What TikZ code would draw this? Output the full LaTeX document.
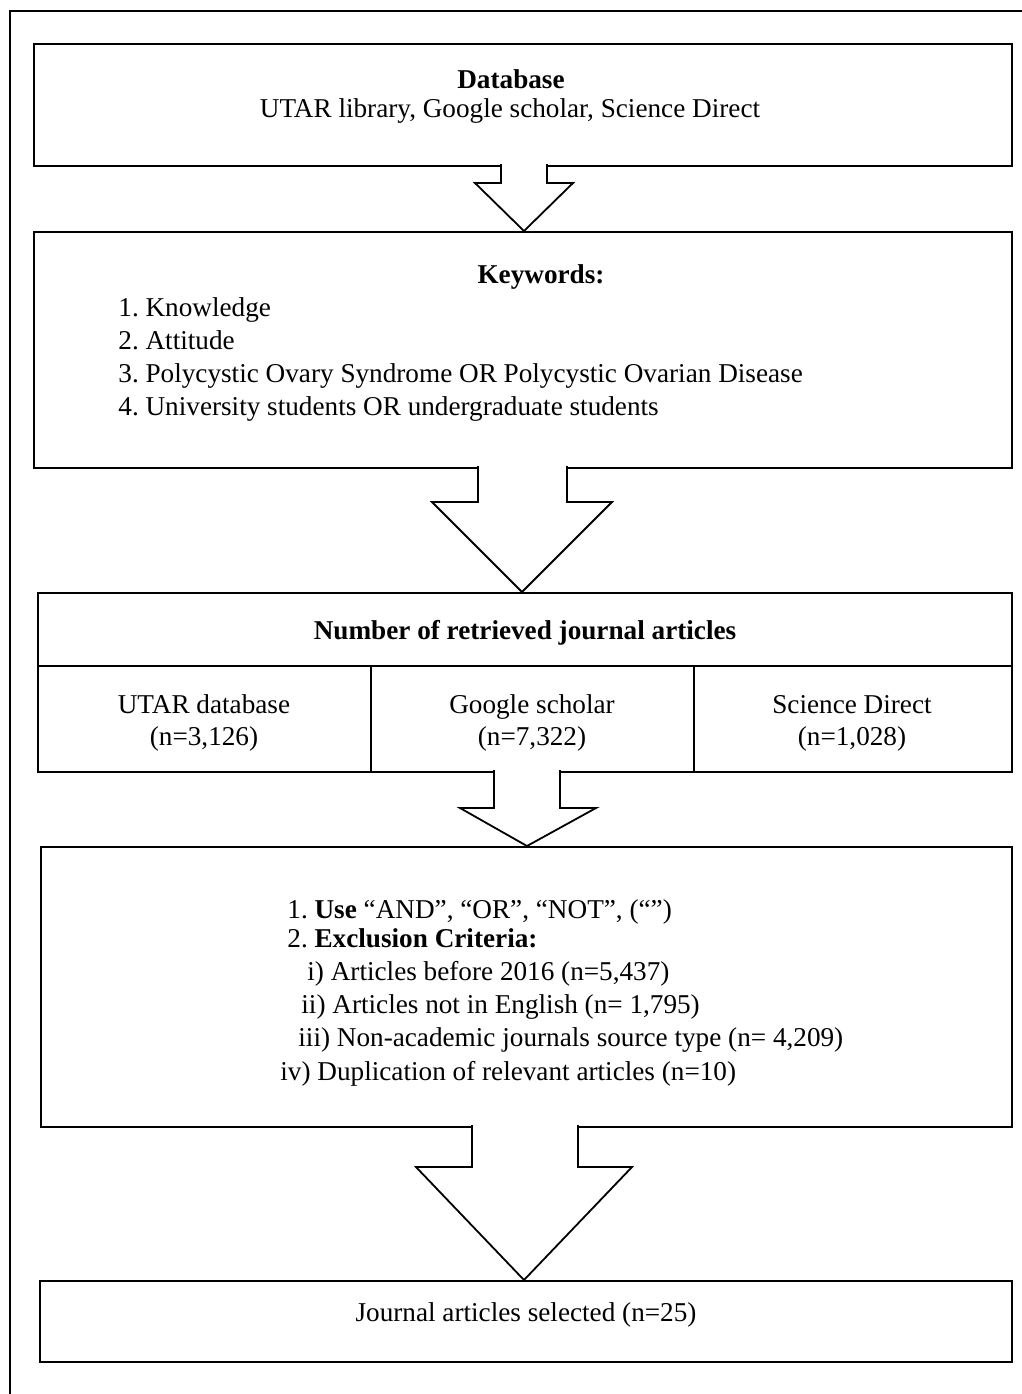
\documentclass[tikz,border=0pt]{standalone}
\usepackage{fontspec}
\setmainfont{Liberation Serif}
\begin{document}
\frenchspacing
\begin{tikzpicture}[x=0.5pt,y=-0.5pt,
  box/.style={draw, line width=1pt, inner sep=0pt, anchor=north west},
  txt/.style={inner sep=0pt, font=\fontsize{13.6}{16}\selectfont},
  ctxt/.style={txt, anchor=base},
  ltxt/.style={txt, anchor=base west},
  blockarrow/.style={draw, line width=0.9pt, fill=white, line join=miter}]
\useasboundingbox (0,0) rectangle (1022,1394);
% outer frame (open to the right and bottom)
\draw[line width=0.9pt] (10,1400) -- (10,11) -- (1030,11);

% boxes
\node[box, minimum width=489pt, minimum height=61pt] (b1) at (33,43) {};
\node[box, minimum width=489pt, minimum height=118pt] (b2) at (33,231) {};
\node[box, minimum width=487pt, minimum height=89.5pt] (b3) at (37,592) {};
\node[box, minimum width=485.5pt, minimum height=140pt] (b4) at (40,846) {};
\node[box, minimum width=486pt, minimum height=40.5pt] (b5) at (39,1280) {};

% table lines in box 3
\coordinate (h1) at (37,666);
\draw[line width=1pt] (h1) -- (h1 -| b3.east);
\coordinate (c1) at (371,666);
\coordinate (c2) at (694,666);
\draw[line width=0.8pt] (c1) -- (c1 |- b3.south);
\draw[line width=0.8pt] (c2) -- (c2 |- b3.south);

% texts box 1
\node[ctxt, font=\fontsize{13.6}{16}\selectfont\bfseries] (t1a) at (511,88) {Database};
\node[ctxt] (t1b) at (510,117) {UTAR library, Google scholar, Science Direct};

% texts box 2
\node[ctxt, font=\fontsize{13.6}{16}\selectfont\bfseries] (t2a) at (541,283) {Keywords:};
\node[ltxt] (k1) at (118,316) {1. Knowledge};
\node[ltxt] (k2) at (118,349) {2. Attitude};
\node[ltxt] (k3) at (118,382) {3. Polycystic Ovary Syndrome OR Polycystic Ovarian Disease};
\node[ltxt] (k4) at (118,415) {4. University students OR undergraduate students};

% texts box 3
\node[ctxt, font=\fontsize{13.6}{16}\selectfont\bfseries] (t3a) at (525,639) {Number of retrieved journal articles};
\node[ctxt] (u1) at (204,713) {UTAR database};
\node[ctxt] (u2) at (204,745) {(n=3,126)};
\node[ctxt] (g1) at (532,713) {Google scholar};
\node[ctxt] (g2) at (532,745) {(n=7,322)};
\node[ctxt] (s1) at (852,713) {Science Direct};
\node[ctxt] (s2) at (852,745) {(n=1,028)};

% texts box 4
\node[ltxt] (e1) at (287,918) {1. \textbf{Use} “AND”, “OR”, “NOT”, (“”)};
\node[ltxt] (e2) at (287,947) {2. \textbf{Exclusion Criteria:}};
\node[ltxt] (e3) at (307,980) {i) Articles before 2016 (n=5,437)};
\node[ltxt] (e4) at (301,1013) {ii) Articles not in English (n= 1,795)};
\node[ltxt] (e5) at (298,1046) {iii) Non-academic journals source type (n= 4,209)};
\node[ltxt] (e6) at (280,1080) {iv) Duplication of relevant articles (n=10)};

% text box 5
\node[ctxt] (t5) at (526,1321) {Journal articles selected (n=25)};

% block arrows
\draw[blockarrow] (501,164) -- (501,183) -- (475,183) -- (524,231) -- (573,183) -- (547,183) -- (547,164);
\draw[blockarrow] (478,466) -- (478,502) -- (432,502) -- (522,592) -- (612,502) -- (567,502) -- (567,466);
\draw[blockarrow] (494,770) -- (494,808) -- (460,808) -- (527,846) -- (596,808) -- (560,808) -- (560,770);
\draw[blockarrow] (472,1125) -- (472,1167) -- (416,1167) -- (524,1280) -- (632,1167) -- (578,1167) -- (578,1125);
\end{tikzpicture}
\end{document}
